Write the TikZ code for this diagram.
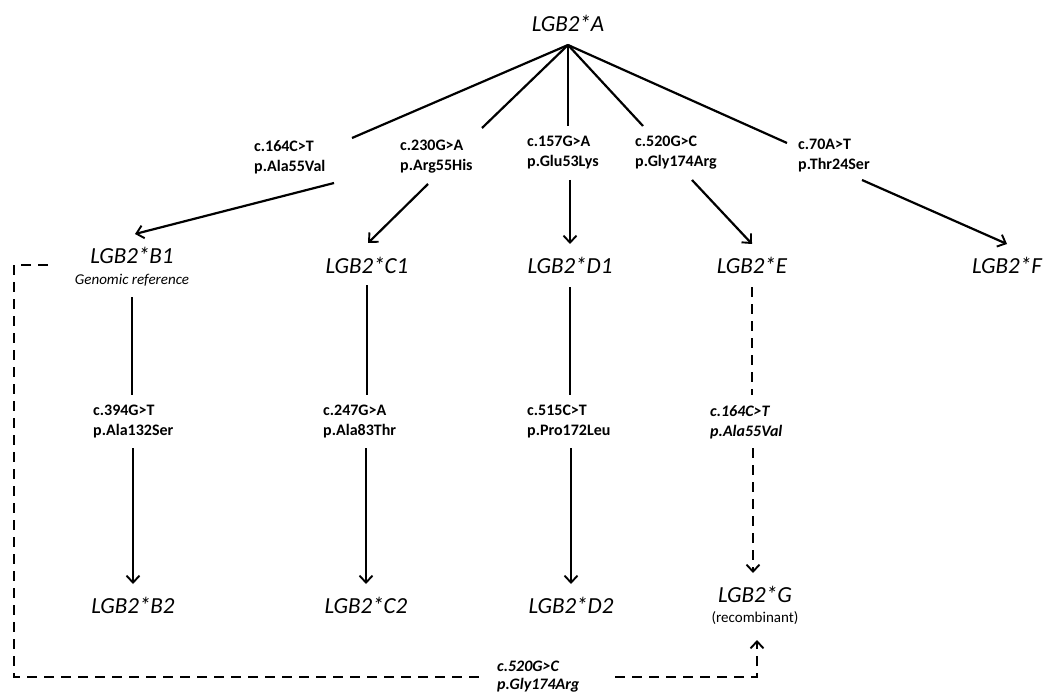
\documentclass[tikz,border=0pt]{standalone}
\usepackage{fontspec}
\setmainfont{Carlito}
\usetikzlibrary{arrows.meta}
\begin{document}
\begin{tikzpicture}[x=1pt,y=-1pt,
  allele/.style={font=\fontsize{23}{27}\selectfont\itshape, inner sep=0pt},
  note/.style={font=\fontsize{15}{18}\selectfont, inner sep=0pt},
  mut/.style={font=\fontsize{16}{20}\selectfont\bfseries, align=left, anchor=west, inner sep=0pt},
  link/.style={line width=2.2pt},
  arr/.style={line width=2.2pt, -{Straight Barb[length=7pt,width=13pt,line width=1.9pt]}},
  dsh/.style={line width=2.2pt, dash pattern=on 10pt off 7pt},
  darr/.style={dsh, -{Straight Barb[length=7pt,width=13pt,line width=1.9pt]}}]
\useasboundingbox (0,0) rectangle (1047,695);

% allele nodes
\node[allele] (A)  at (568,23)  {LGB2*A};
\node[allele] (B1) at (132,255) {LGB2*B1};
\node[note,font=\fontsize{15}{18}\selectfont\itshape] (gr) at (132,280) {Genomic reference};
\node[allele] (C1) at (367,265) {LGB2*C1};
\node[allele] (D1) at (570,265) {LGB2*D1};
\node[allele] (E)  at (752,265) {LGB2*E};
\node[allele] (F)  at (1007,265) {LGB2*F};
\node[allele] (B2) at (133,605) {LGB2*B2};
\node[allele] (C2) at (366,605) {LGB2*C2};
\node[allele] (D2) at (571,605) {LGB2*D2};
\node[allele] (G)  at (755,594) {LGB2*G};
\node[note] (rec) at (755,618) {(recombinant)};

% mutation labels, first level
\node[mut] (mB) at (254,157) {c.164C>T\\p.Ala55Val};
\node[mut] (mC) at (400,157) {c.230G>A\\p.Arg55His};
\node[mut] (mD) at (527,153) {c.157G>A\\p.Glu53Lys};
\node[mut] (mE) at (635,153) {c.520G>C\\p.Gly174Arg};
\node[mut] (mF) at (798,156) {c.70A>T\\p.Thr24Ser};

% mutation labels, second level
\node[mut] (nB) at (93,422)  {c.394G>T\\p.Ala132Ser};
\node[mut] (nC) at (323,422) {c.247G>A\\p.Ala83Thr};
\node[mut] (nD) at (527,422) {c.515C>T\\p.Pro172Leu};
\node[mut,font=\fontsize{16}{20}\selectfont\bfseries\itshape] (nE) at (710,422) {c.164C>T\\p.Ala55Val};

% recombination label
\node[mut,font=\fontsize{16}{18}\selectfont\bfseries\itshape] (nG) at (497,677) {c.520G>C\\p.Gly174Arg};

% coordinates
\coordinate (apex) at (568,45);
\coordinate (aB) at (352,138);
\coordinate (aC) at (482,128);
\coordinate (aD) at (568,126);
\coordinate (aE) at (643,126);
\coordinate (aF) at (787,143);
\coordinate (sB) at (334,183);
\coordinate (sC) at (428,184);
\coordinate (sD) at (570,180);
\coordinate (sE) at (692,180);
\coordinate (sF) at (862,180);
\coordinate (tB) at (135,234);
\coordinate (tC) at (368,243);
\coordinate (tD) at (570,244);
\coordinate (tE) at (752,244);
\coordinate (tF) at (1007,244);

\coordinate (uB1) at (132,297); \coordinate (uB2) at (132,395);
\coordinate (vB1) at (133,448); \coordinate (vB2) at (133,584);
\coordinate (uC1) at (367,285); \coordinate (uC2) at (367,395);
\coordinate (vC1) at (366,448); \coordinate (vC2) at (366,584);
\coordinate (uD1) at (570,287); \coordinate (uD2) at (570,395);
\coordinate (vD1) at (571,448); \coordinate (vD2) at (571,584);
\coordinate (uE1) at (752,287); \coordinate (uE2) at (752,395);
\coordinate (vE1) at (753,448); \coordinate (vE2) at (753,573);

\coordinate (k0) at (48,265);
\coordinate (k1) at (14,677);
\coordinate (k2) at (483,677);
\coordinate (k3) at (615,677);
\coordinate (k4) at (757,640);

% connectors from A
\draw[link] (apex) -- (aB);
\draw[link] (apex) -- (aC);
\draw[link] (apex) -- (aD);
\draw[link] (apex) -- (aE);
\draw[link] (apex) -- (aF);

\draw[arr] (sB) -- (tB);
\draw[arr] (sC) -- (tC);
\draw[arr] (sD) -- (tD);
\draw[arr] (sE) -- (tE);
\draw[arr] (sF) -- (tF);

% vertical lineages
\draw[link] (uB1) -- (uB2);
\draw[arr]  (vB1) -- (vB2);
\draw[link] (uC1) -- (uC2);
\draw[arr]  (vC1) -- (vC2);
\draw[link] (uD1) -- (uD2);
\draw[arr]  (vD1) -- (vD2);
\draw[dsh]  (uE1) -- (uE2);
\draw[darr] (vE1) -- (vE2);

% recombination path
\draw[dsh] (k0) -| (k1) -- (k2);
\draw[darr] (k3) -| (k4);
\end{tikzpicture}
\end{document}
